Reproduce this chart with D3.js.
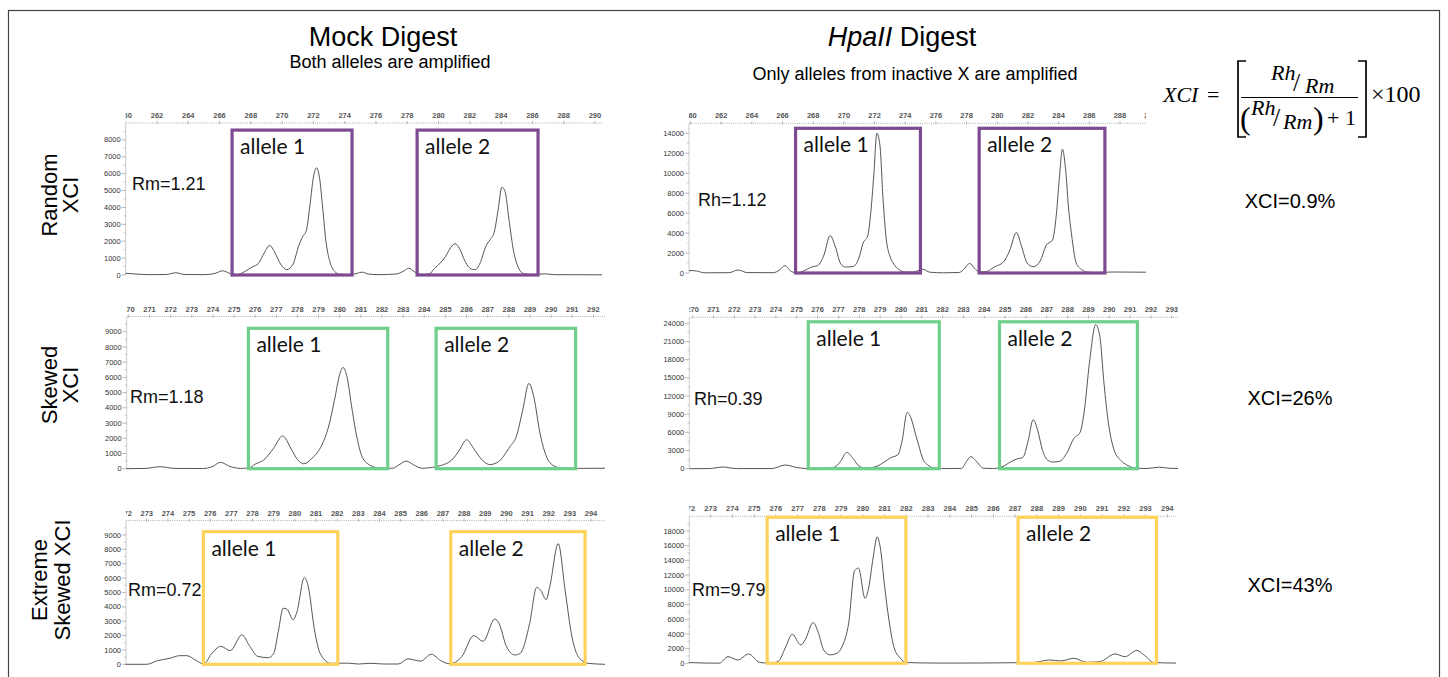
<!DOCTYPE html>
<html>
<head>
<meta charset="utf-8">
<script src="https://cdn.jsdelivr.net/npm/d3@7"></script>
<style>
  body { margin: 0; background: #fff; }
  svg { display: block; }
</style>
</head>
<body>
<script>
// ---- data: [size (bp), RFU] ----
const mockRandom = [[260,100],[260.6,60],[261.5,20],[262.6,30],[263.2,130],[263.8,30],[265,20],[265.7,90],[266.2,250],[266.7,80],[267.1,20],[267.6,200],[268.1,480],[268.5,700],[268.85,1300],[269.2,1750],[269.55,1300],[269.9,650],[270.3,320],[270.7,650],[271.05,1700],[271.3,2250],[271.55,2650],[271.8,4300],[272.0,5800],[272.2,6350],[272.4,5700],[272.6,3900],[272.8,2000],[273.05,800],[273.35,220],[273.7,40],[274.3,20],[274.8,100],[275.1,170],[275.5,60],[276.2,20],[277.3,60],[277.8,250],[278.1,400],[278.45,200],[278.9,30],[279.4,60],[279.75,400],[280.1,700],[280.45,1100],[280.8,1650],[281.05,1850],[281.35,1550],[281.7,800],[282.1,350],[282.35,320],[282.7,800],[283.0,1650],[283.3,2100],[283.55,2500],[283.8,3800],[284.05,5200],[284.25,4950],[284.5,3300],[284.8,1400],[285.1,450],[285.45,80],[286.0,20],[286.8,70],[287.4,20],[290.45,10]]
const hpaRandom = [[259.9,250],[260.4,200],[260.9,20],[262.5,30],[263.1,300],[263.7,40],[265.4,30],[265.8,300],[266.15,730],[266.6,120],[267.0,20],[267.5,300],[267.9,600],[268.3,750],[268.7,1800],[269.1,3750],[269.45,2600],[269.8,900],[270.1,600],[270.6,650],[271.0,1600],[271.25,3000],[271.55,3700],[271.75,6000],[271.95,9800],[272.15,14000],[272.35,12800],[272.55,7500],[272.77,3300],[273.0,1700],[273.25,900],[273.6,350],[274.0,100],[274.5,80],[275.15,380],[275.6,80],[276.5,20],[277.5,50],[277.9,500],[278.2,970],[278.5,500],[278.85,100],[279.3,150],[279.8,600],[280.4,1100],[280.8,2200],[281.25,4050],[281.6,2600],[281.95,1000],[282.35,630],[282.8,1200],[283.2,2800],[283.6,3300],[283.85,5800],[284.05,9500],[284.25,12400],[284.45,10500],[284.65,6500],[284.85,3800],[285.15,1000],[285.5,350],[285.9,80],[286.5,40],[287.5,100],[289.7,80]]
const mockSkewed = [[269.9,0],[270.8,20],[271.5,130],[272.2,20],[273.5,10],[274.0,150],[274.35,420],[274.8,150],[275.3,20],[275.7,50],[276.0,300],[276.4,570],[276.85,1300],[277.3,2150],[277.7,1300],[278.0,600],[278.3,320],[278.7,700],[279.15,1550],[279.45,2650],[279.75,4500],[280.0,6200],[280.15,6650],[280.35,6000],[280.55,4200],[280.75,2500],[281.0,1000],[281.3,350],[281.8,60],[282.5,30],[282.8,250],[283.15,500],[283.5,250],[283.9,30],[284.6,150],[285.3,570],[285.65,1200],[286.0,1900],[286.35,1300],[286.75,550],[287.1,270],[287.5,450],[288.05,1450],[288.35,2100],[288.65,3800],[288.95,5600],[289.2,4600],[289.45,2500],[289.7,1100],[289.95,380],[290.4,60],[291.0,20],[292.55,30]]
const hpaSkewed = [[269.85,0],[270.8,20],[271.45,280],[272.1,20],[273.8,20],[274.45,610],[275.0,200],[275.5,20],[276.3,30],[276.8,250],[277.1,1200],[277.4,2700],[277.7,1700],[278.0,400],[278.3,100],[278.8,350],[279.2,1100],[279.5,1800],[279.85,2300],[280.05,4500],[280.3,9300],[280.5,8200],[280.7,5700],[280.85,3900],[281.05,1600],[281.3,600],[281.6,100],[282.3,20],[282.9,50],[283.15,1200],[283.35,2000],[283.6,1300],[283.95,80],[284.4,20],[284.85,300],[285.2,1000],[285.55,1600],[285.85,1850],[286.1,4500],[286.35,8100],[286.55,6500],[286.8,3000],[287.05,1400],[287.3,1100],[287.6,1200],[287.95,2500],[288.3,5000],[288.6,6000],[288.8,9500],[289.05,17500],[289.35,23800],[289.55,21800],[289.75,14000],[289.95,7800],[290.25,2900],[290.55,1400],[290.85,600],[291.3,80],[291.8,30],[292.4,250],[292.8,100],[293.3,30]]
const mockExtreme = [[272.0,0],[273.0,0],[273.5,250],[274.1,420],[274.55,600],[274.9,600],[275.3,300],[275.7,20],[276.05,700],[276.5,1250],[276.95,950],[277.5,2050],[277.85,1300],[278.25,550],[278.75,460],[279.0,750],[279.22,2300],[279.45,3900],[279.62,3850],[279.92,3100],[280.1,3650],[280.45,6050],[280.62,5500],[280.95,2200],[281.2,750],[281.7,70],[282.5,80],[283.0,20],[283.6,70],[284.2,20],[284.9,20],[285.35,380],[285.95,220],[286.45,700],[286.9,250],[287.3,40],[287.9,550],[288.45,2000],[288.9,1600],[289.45,3150],[289.65,2850],[290.0,1250],[290.4,650],[290.65,760],[291.1,2850],[291.43,5350],[291.62,5150],[291.88,4500],[292.05,5400],[292.45,8400],[292.77,5200],[293.1,1900],[293.45,420],[293.9,60],[294.66,0]]
const hpaExtreme = [[272.0,100],[272.8,30],[273.4,20],[273.8,900],[274.25,450],[274.75,1270],[275.25,120],[275.7,20],[276.1,250],[276.45,2200],[276.75,3950],[277.15,2500],[277.35,3200],[277.72,5550],[277.95,4200],[278.2,1800],[278.5,1150],[278.8,1350],[279.05,2300],[279.35,5500],[279.62,12600],[279.8,12950],[280.1,8850],[280.25,10000],[280.48,14500],[280.66,17200],[280.8,15800],[281.0,10500],[281.2,5900],[281.42,2300],[281.72,700],[282.0,100],[283.5,30],[285.5,40],[287.0,80],[287.8,100],[288.6,450],[289.1,320],[289.7,680],[290.3,140],[290.9,230],[291.6,1270],[292.05,900],[292.6,1750],[292.9,1200],[293.4,100],[294.4,30]]

// axis extents and ticks per panel (order: mock random, hpa random, mock skewed, hpa skewed, mock extreme, hpa extreme)
const xDomains = [[260, 290.45], [259.9, 289.7], [269.92, 292.55], [269.84, 293.3], [272.02, 294.66], [272.02, 294.4]]
const yMaxes = [9000, 15000, 10000, 25000, 10000, 20000]
const xTicksRandom = [260,262,264,266,268,270,272,274,276,278,280,282,284,286,288,290]
const xTicksSkewed = [270,271,272,273,274,275,276,277,278,279,280,281,282,283,284,285,286,287,288,289,290,291,292,293]
const xTicksExtreme = [272,273,274,275,276,277,278,279,280,281,282,283,284,285,286,287,288,289,290,291,292,293,294]
const yTicksMock1 = [0,1000,2000,3000,4000,5000,6000,7000,8000]
const yTicksHpa1 = [0,2000,4000,6000,8000,10000,12000,14000]
const yTicksMock2 = [0,1000,2000,3000,4000,5000,6000,7000,8000,9000]
const yTicksHpa2 = [0,3000,6000,9000,12000,15000,18000,21000,24000]
const yTicksMock3 = [0,1000,2000,3000,4000,5000,6000,7000,8000,9000]
const yTicksHpa3 = [0,2000,4000,6000,8000,10000,12000,14000,16000,18000]

// allele windows [from bp, to bp, top RFU]
const allele1Boxes = [[266.8, 274.47, 8580], [266.85, 274.99, 14500], [275.68, 282.27, 9225], [275.55, 281.84, 24260], [275.68, 282.03, 9230], [275.6, 281.98, 19860]]
const allele2Boxes = [[278.63, 286.36, 8580], [278.82, 287.02, 14500], [284.56, 291.16, 9225], [284.73, 291.35, 24260], [287.37, 293.72, 9230], [287.14, 293.5, 19860]]
const ratioLabels = ["Rm=1.21", "Rh=1.12", "Rm=1.18", "Rh=0.39", "Rm=0.72", "Rm=9.79"]
const rowLabels = [["Random", "XCI"], ["Skewed", "XCI"], ["Extreme", "Skewed XCI"]]
const xciResults = ["XCI=0.9%", "XCI=26%", "XCI=43%"]
const rowColors = ["#7e4a91", "#6fcf8b", "#fdd35c"]

const traces = [mockRandom, hpaRandom, mockSkewed, hpaSkewed, mockExtreme, hpaExtreme]
const xTickSets = [xTicksRandom, xTicksRandom, xTicksSkewed, xTicksSkewed, xTicksExtreme, xTicksExtreme]
const yTickSets = [yTicksMock1, yTicksHpa1, yTicksMock2, yTicksHpa2, yTicksMock3, yTicksHpa3]

// pixel frames of the six plots
const frames = [
  {x0: 125.7, x1: 602, top: 123, base: 275},
  {x0: 689, x1: 1146, top: 123.3, base: 273},
  {x0: 126.7, x1: 605, top: 316.5, base: 468.7},
  {x0: 689.3, x1: 1178, top: 317.3, base: 468.7},
  {x0: 126, x1: 605, top: 520.6, base: 664.3},
  {x0: 689.3, x1: 1176, top: 516.3, base: 663.3}
]
const ratioPos = [[132, 190], [698, 206], [130, 403], [694, 405], [128, 596], [692, 596]]

const W = 1448, H = 677
const sans = "'Liberation Sans', Arial, sans-serif"

const svg = d3.select("body").append("svg")
    .attr("width", W)
    .attr("height", H)

svg.append("rect")
    .attr("x", 8.5).attr("y", 10.5)
    .attr("width", 1431).attr("height", 700)
    .attr("fill", "none")
    .attr("stroke", "#444")
    .attr("stroke-width", 1.2)

// column headers
svg.append("text")
    .attr("x", 383).attr("y", 46)
    .attr("text-anchor", "middle")
    .style("font", `27px ${sans}`)
    .text("Mock Digest")
svg.append("text")
    .attr("x", 390).attr("y", 68)
    .attr("text-anchor", "middle")
    .style("font", `18px ${sans}`)
    .text("Both alleles are amplified")
const hp = svg.append("text")
    .attr("x", 902).attr("y", 46)
    .attr("text-anchor", "middle")
    .style("font", `27px ${sans}`)
hp.append("tspan").style("font-style", "italic").text("HpaII")
hp.append("tspan").text(" Digest")
svg.append("text")
    .attr("x", 915).attr("y", 80)
    .attr("text-anchor", "middle")
    .style("font", `18px ${sans}`)
    .text("Only alleles from inactive X are amplified")

// row labels
const rowCentres = [195, 385, 580]
const rowBaselines = [[57, 78], [57, 78], [47, 70]]
rowLabels.forEach(function (lines, r) {
  lines.forEach(function (t, k) {
    svg.append("text")
        .attr("transform", `translate(${rowBaselines[r][k]},${rowCentres[r]}) rotate(-90)`)
        .attr("text-anchor", "middle")
        .style("font", `22px ${sans}`)
        .text(t)
  })
})

// XCI results
const resultY = [208, 405, 592]
xciResults.forEach(function (t, r) {
  svg.append("text")
      .attr("x", 1290).attr("y", resultY[r])
      .attr("text-anchor", "middle")
      .style("font", `20px ${sans}`)
      .text(t)
})

// panels
const defs = svg.append("defs")
frames.forEach(function (f, i) {
  const x = d3.scaleLinear().domain(xDomains[i]).range([f.x0, f.x1])
  const y = d3.scaleLinear().domain([0, yMaxes[i]]).range([f.base, f.top])
  const color = rowColors[Math.floor(i / 2)]
  const g = svg.append("g").attr("class", "panel")

  defs.append("clipPath").attr("id", `clip${i}`)
    .append("rect")
      .attr("x", f.x0).attr("y", f.top - 20)
      .attr("width", f.x1 - f.x0).attr("height", f.base - f.top + 24)

  // top size ruler
  const top = g.append("g").attr("clip-path", `url(#clip${i})`)
  top.append("line")
      .attr("x1", f.x0).attr("x2", f.x1)
      .attr("y1", f.top).attr("y2", f.top)
      .attr("stroke", "#999")
      .attr("stroke-width", 0.8)
      .attr("stroke-dasharray", "1,1.2")
  top.selectAll("line.tk").data(xTickSets[i]).enter().append("line")
      .attr("class", "tk")
      .attr("x1", d => x(d)).attr("x2", d => x(d))
      .attr("y1", f.top - 2).attr("y2", f.top + 1)
      .attr("stroke", "#999").attr("stroke-width", 0.7)
  top.selectAll("text").data(xTickSets[i]).enter().append("text")
      .attr("x", d => x(d))
      .attr("y", f.top - 5)
      .attr("text-anchor", "middle")
      .style("font", `bold 7.5px ${sans}`)
      .attr("fill", "#555")
      .text(d => d)

  // left RFU axis
  g.append("line")
      .attr("x1", f.x0).attr("x2", f.x0)
      .attr("y1", f.top).attr("y2", f.base)
      .attr("stroke", "#ccc").attr("stroke-width", 1)
  const yt = yTickSets[i]
  const step = yt[1] - yt[0]
  g.selectAll("line.minor").data(yt.map(v => v + step / 2).filter(v => v < yMaxes[i])).enter()
    .append("line")
      .attr("class", "minor")
      .attr("x1", f.x0 - 2).attr("x2", f.x0)
      .attr("y1", d => y(d)).attr("y2", d => y(d))
      .attr("stroke", "#aaa").attr("stroke-width", 0.6)
  g.selectAll("line.major").data(yt).enter().append("line")
      .attr("class", "major")
      .attr("x1", f.x0 - 4).attr("x2", f.x0)
      .attr("y1", d => y(d)).attr("y2", d => y(d))
      .attr("stroke", "#999").attr("stroke-width", 0.7)
  g.selectAll("text.yl").data(yt).enter().append("text")
      .attr("class", "yl")
      .attr("x", f.x0 - 5)
      .attr("y", d => y(d) + 2.6)
      .attr("text-anchor", "end")
      .style("font", `7.5px ${sans}`)
      .attr("fill", "#333")
      .text(d => d)

  // trace
  const line = d3.line()
      .x(d => x(d[0]))
      .y(d => y(d[1]))
      .curve(d3.curveMonotoneX)
  g.append("path")
      .datum(traces[i])
      .attr("d", line)
      .attr("fill", "none")
      .attr("stroke", "#555")
      .attr("stroke-width", 1)

  // allele windows
  const boxes = [allele1Boxes[i], allele2Boxes[i]]
  boxes.forEach(function (b, k) {
    g.append("rect")
        .attr("x", x(b[0])).attr("y", y(b[2]))
        .attr("width", x(b[1]) - x(b[0]))
        .attr("height", y(0) - y(b[2]))
        .attr("fill", "none")
        .attr("stroke", color)
        .attr("stroke-width", 3.2)
    g.append("text")
        .attr("x", x(b[0]) + 8)
        .attr("y", y(b[2]) + 24)
        .style("font", "21px Lato, 'Open Sans', sans-serif")
        .attr("fill", "#111")
        .text(`allele ${k + 1}`)
  })

  g.append("text")
      .attr("x", ratioPos[i][0]).attr("y", ratioPos[i][1])
      .style("font", `18px ${sans}`)
      .attr("fill", "#111")
      .text(ratioLabels[i])
})

// formula
const serif = "'Liberation Serif', 'DejaVu Serif', serif"
const fm = svg.append("g").attr("class", "formula")
function ftext(t, x, y, size, italic) {
  fm.append("text")
      .attr("x", x).attr("y", y)
      .style("font", `${italic ? "italic " : ""}${size}px ${serif}`)
      .text(t)
}
ftext("XCI", 1163, 102, 22, true)
ftext("=", 1207, 102, 22, false)
fm.append("path")
    .attr("d", "M1246,61 H1238 V137 H1246 M1358,61 H1366 V137 H1358")
    .attr("fill", "none").attr("stroke", "#000").attr("stroke-width", 1.7)
fm.append("line")
    .attr("x1", 1241).attr("x2", 1358)
    .attr("y1", 97.5).attr("y2", 97.5)
    .attr("stroke", "#000").attr("stroke-width", 1.1)
ftext("Rh", 1271, 80, 22, true)
ftext("/", 1293, 91, 26, false)
ftext("Rm", 1305, 93, 22, true)
ftext("(", 1240, 129, 32, false)
ftext("Rh", 1251, 115, 22, true)
ftext("/", 1273, 126, 26, false)
ftext("Rm", 1283, 129, 22, true)
ftext(")", 1313, 129, 32, false)
ftext("+ 1", 1327, 125, 22, false)
ftext("×100", 1371, 102, 24, false)
</script>
</body>
</html>
